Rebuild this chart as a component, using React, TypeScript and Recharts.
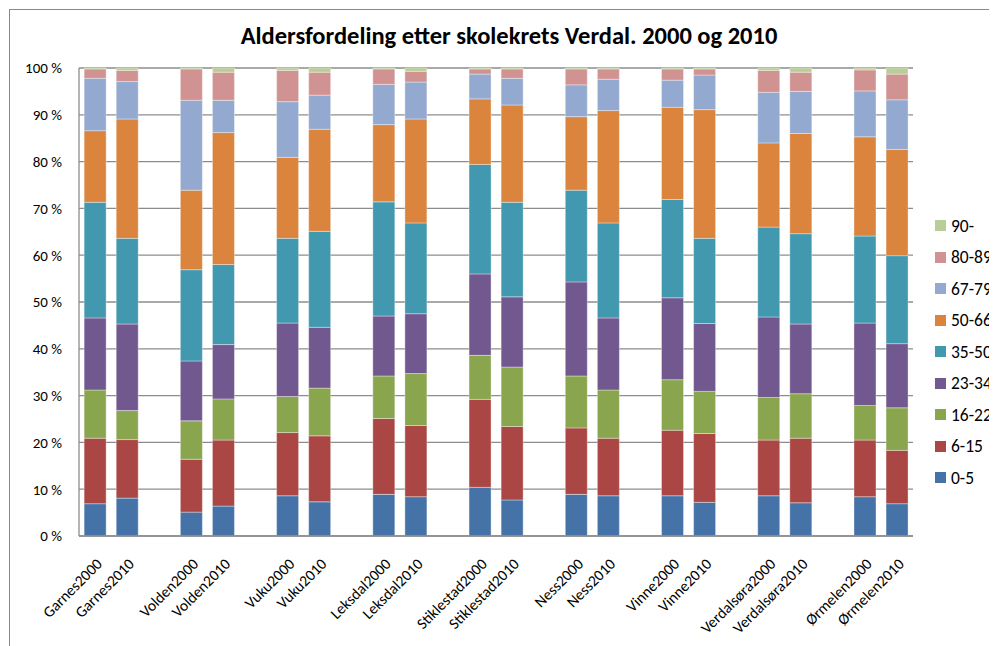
import React from 'react';
import { BarChart, Bar, XAxis, YAxis, CartesianGrid, Legend } from 'recharts';

// skolekretser, each with a 2000 and a 2010 column; an empty slot sits between pairs
const schools = ['Garnes', 'Volden', 'Vuku', 'Leksdal', 'Stiklestad', 'Ness', 'Vinne', 'Verdalsøra', 'Ørmelen'];
const years = ['2000', '2010'];

const ageGroups = ['0-5', '6-15', '16-22', '23-34', '35-50', '50-66', '67-79', '80-89', '90-'];
const colors = ['#4572A7', '#AA4643', '#89A54E', '#71588F', '#4198AF', '#DB843D', '#93A9CF', '#D19392', '#B9CD96'];

// share in % per column, order: Garnes2000, Garnes2010, Volden2000, ...
const age0_5 = [6.9, 8.1, 5.1, 6.4, 8.6, 7.3, 8.9, 8.4, 10.4, 7.7, 8.9, 8.6, 8.6, 7.2, 8.6, 7.1, 8.4, 6.9];
const age6_15 = [14.0, 12.5, 11.3, 14.1, 13.5, 14.1, 16.2, 15.2, 18.8, 15.7, 14.2, 12.3, 14.0, 14.7, 11.9, 13.8, 12.1, 11.4];
const age16_22 = [10.3, 6.2, 8.2, 8.8, 7.7, 10.2, 9.1, 11.1, 9.4, 12.7, 11.1, 10.3, 10.8, 9.0, 9.1, 9.5, 7.4, 9.1];
const age23_34 = [15.4, 18.5, 12.8, 11.6, 15.7, 13.0, 12.8, 12.8, 17.4, 15.0, 20.1, 15.4, 17.5, 14.5, 17.2, 14.9, 17.6, 13.7];
const age35_50 = [24.7, 18.3, 19.5, 17.1, 18.1, 20.5, 24.4, 19.4, 23.4, 20.2, 19.6, 20.3, 21.0, 18.2, 19.2, 19.3, 18.6, 18.8];
const age50_66 = [15.3, 25.5, 17.0, 28.2, 17.3, 21.8, 16.5, 22.2, 14.0, 20.8, 15.7, 24.0, 19.7, 27.5, 18.0, 21.4, 21.2, 22.7];
const age67_79 = [11.2, 8.0, 19.2, 6.9, 11.9, 7.3, 8.6, 7.9, 5.3, 5.7, 6.8, 6.7, 5.8, 7.4, 10.8, 9.0, 9.8, 10.6];
const age80_89 = [2.0, 2.4, 6.7, 6.0, 6.7, 4.9, 3.3, 2.3, 1.1, 2.0, 3.4, 2.2, 2.4, 1.3, 4.7, 4.1, 4.5, 5.5];
const age90 = [0.2, 0.5, 0.2, 0.9, 0.5, 0.9, 0.2, 0.7, 0.2, 0.2, 0.2, 0.2, 0.2, 0.2, 0.5, 0.9, 0.4, 1.3];

const series = [age0_5, age6_15, age16_22, age23_34, age35_50, age50_66, age67_79, age80_89, age90];
const yTicks = [0, 10, 20, 30, 40, 50, 60, 70, 80, 90, 100];

const FONT = 'Carlito, Calibri, Lato, sans-serif';
const GRID = '#8c8c8c';

const data: any[] = [];
schools.forEach((school, s) => {
  if (s > 0) data.push({ name: '' });
  years.forEach((year, y) => {
    const i = s * 2 + y;
    const row: any = { name: school + year };
    ageGroups.forEach((g, k) => (row[g] = series[k][i]));
    data.push(row);
  });
});

const XTick = ({ x, y, payload }: any) => {
  if (!payload.value) return null;
  return (
    <g transform={`translate(${x + 8},${y + 29})`}>
      <text x={0} y={0} transform="rotate(-45)" textAnchor="end" fontSize={15.5} fontFamily={FONT} fill="#000">
        {payload.value}
      </text>
    </g>
  );
};

const LegendBox = () => (
  <div style={{ fontFamily: FONT, fontSize: 17.5, color: '#000' }}>
    {ageGroups
      .map((g, k) => ({ g, c: colors[k] }))
      .reverse()
      .map(({ g, c }) => (
        <div key={g} style={{ height: 31.5, display: 'flex', alignItems: 'center', whiteSpace: 'nowrap' }}>
          <span style={{ width: 11, height: 11, background: c, display: 'inline-block', marginRight: 5 }} />
          <span>{g}</span>
        </div>
      ))}
  </div>
);

export default function App() {
  return (
    <div style={{ position: 'relative', width: 989, height: 638, overflow: 'hidden', background: '#fff' }}>
      <div style={{ position: 'absolute', left: 1, top: 1, width: 1200, height: 900, border: '1px solid #8a8a8a' }} />
      <div
        style={{
          position: 'absolute', left: 0, top: 13, width: 1002, textAlign: 'center',
          fontFamily: FONT, fontWeight: 700, fontSize: 24.5, color: '#000',
        }}
      >
        Aldersfordeling etter skolekrets Verdal. 2000 og 2010
      </div>
      <div style={{ position: 'absolute', left: 0, top: 0 }}>
        <BarChart
          width={1040}
          height={640}
          data={data}
          stackOffset="expand"
          barCategoryGap="16%"
          margin={{ top: 60, right: 135, bottom: 12, left: 0 }}
        >
          <CartesianGrid vertical={false} stroke={GRID} strokeWidth={1.3} />
          <XAxis
            dataKey="name"
            interval={0}
            tickLine={false}
            tickSize={0}
            tickMargin={0}
            height={100}
            axisLine={{ stroke: GRID, strokeWidth: 1.3 }}
            tick={<XTick />}
          />
          <YAxis
            width={71}
            domain={[0, 1]}
            ticks={yTicks.map((t) => t / 100)}
            tickFormatter={(v: number) => `${Math.round(v * 100)} %`}
            tickLine={false}
            tickMargin={11}
            axisLine={{ stroke: GRID, strokeWidth: 1.3 }}
            tick={{ fontSize: 15, fontFamily: FONT, fill: '#000' }}
          />
          <Legend
            layout="vertical"
            align="center"
            verticalAlign="middle"
            content={<LegendBox />}
            wrapperStyle={{ position: 'absolute', left: 927, top: 202, width: 120 }}
          />
          {ageGroups.map((g, k) => (
            <Bar
              key={g}
              dataKey={g}
              stackId="a"
              fill={colors[k]}
              stroke="rgba(255,255,255,0.45)"
              strokeWidth={0.8}
              isAnimationActive={false}
            />
          ))}
        </BarChart>
      </div>
    </div>
  );
}
